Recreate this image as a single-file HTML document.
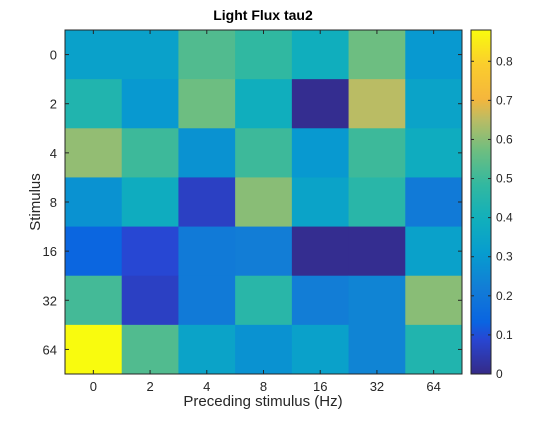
<!DOCTYPE html>
<html><head><meta charset="utf-8">
<style>
body{margin:0;background:#fff;width:560px;height:420px;overflow:hidden;font-family:"Liberation Sans",Arial,sans-serif;}
svg text{font-family:"Liberation Sans",Arial,sans-serif;}
</style></head>
<body>
<svg id="chart" width="560" height="420">
<rect x="0" y="0" width="560" height="420" fill="#fff"/>
<text x="263" y="20" text-anchor="middle" font-size="14" font-weight="bold" fill="#000">Light Flux tau2</text>
<g id="cells"></g>
<g id="axes"></g>
<text x="263" y="406" text-anchor="middle" font-size="15" fill="#262626">Preceding stimulus (Hz)</text>
<text transform="translate(40,202) rotate(-90)" text-anchor="middle" font-size="15" fill="#262626">Stimulus</text>
<g id="cbar"></g>
</svg>
<script>
const xCategories = ["0","2","4","8","16","32","64"];
const yCategories = ["0","2","4","8","16","32","64"];
const row0  = [0.33,0.33,0.53,0.48,0.39,0.57,0.30];
const row2  = [0.44,0.30,0.57,0.39,0.01,0.65,0.34];
const row4  = [0.61,0.50,0.28,0.50,0.30,0.50,0.38];
const row8  = [0.28,0.38,0.07,0.60,0.34,0.46,0.21];
const row16 = [0.14,0.09,0.21,0.22,0.01,0.01,0.33];
const row32 = [0.51,0.07,0.21,0.46,0.22,0.24,0.60];
const row64 = [0.88,0.53,0.34,0.28,0.33,0.24,0.44];
const cbarTicks = [0,0.1,0.2,0.3,0.4,0.5,0.6,0.7,0.8];
const cMin = 0, cMax = 0.88;
const rows = [row0,row2,row4,row8,row16,row32,row64];

const L=65,R=462,T=30,B=374;
const cw=(R-L)/xCategories.length, ch=(B-T)/yCategories.length;
function xPos(i){return L+i*cw;}
function yPos(j){return T+j*ch;}
const anchors=[[0,53,42,135],[0.1,40,70,210],[0.15,10,100,225],[0.25,18,125,214],[0.35,7,156,207],[0.45,17,175,188],[0.55,50,184,160],[0.65,110,190,128],[0.74,187,188,100],[0.80,245,182,60],[0.90,250,205,45],[1,249,251,14]];
function color(v){
  let t=Math.max(0,Math.min(1,(v-cMin)/(cMax-cMin)));
  for(let k=1;k<anchors.length;k++){
    if(t<=anchors[k][0]){const a=anchors[k-1],b=anchors[k];const f=(t-a[0])/(b[0]-a[0]);
      return `rgb(${Math.round(a[1]+f*(b[1]-a[1]))},${Math.round(a[2]+f*(b[2]-a[2]))},${Math.round(a[3]+f*(b[3]-a[3]))})`;}
  }
  return 'rgb(249,251,14)';
}
const NS="http://www.w3.org/2000/svg";
function mk(tag,attrs,parent){const e=document.createElementNS(NS,tag);for(const k in attrs)e.setAttribute(k,attrs[k]);parent.appendChild(e);return e;}
const cells=document.getElementById('cells');
rows.forEach((r,j)=>r.forEach((v,i)=>{
  const el=mk('rect',{x:xPos(i),y:yPos(j),width:cw+0.5,height:ch+0.5,fill:color(v)},cells);
  
  
}));
const axes=document.getElementById('axes');
const box=mk('rect',{x:L,y:T,width:R-L,height:B-T,fill:'none',stroke:'#262626','stroke-width':1},axes);


xCategories.forEach((c,i)=>{
  const x=xPos(i)+cw/2;
  mk('line',{x1:x,y1:B,x2:x,y2:B-4,stroke:'#262626'},axes);
  mk('line',{x1:x,y1:T,x2:x,y2:T+4,stroke:'#262626'},axes);
  const t=mk('text',{x:x,y:B+17,'text-anchor':'middle','font-size':13,fill:'#262626'},axes);
  t.textContent=c;
  
  
});
yCategories.forEach((c,j)=>{
  const y=yPos(j)+ch/2;
  mk('line',{x1:L,y1:y,x2:L+4,y2:y,stroke:'#262626'},axes);
  mk('line',{x1:R,y1:y,x2:R-4,y2:y,stroke:'#262626'},axes);
  const t=mk('text',{x:L-8,y:y+5,'text-anchor':'end','font-size':13,fill:'#262626'},axes);
  t.textContent=c;
  
  
});
const cb=document.getElementById('cbar');
const CX=471,CW=20;
for(let p=0;p<(B-T);p++){
  const v=cMin+(cMax-cMin)*(1-(p+0.5)/(B-T));
  mk('rect',{x:CX,y:T+p,width:CW,height:1.2,fill:color(v)},cb);
}
const cframe=mk('rect',{x:CX,y:T,width:CW,height:B-T,fill:'none',stroke:'#262626'},cb);


cbarTicks.forEach(v=>{
  const y=B-(v-cMin)/(cMax-cMin)*(B-T);
  mk('line',{x1:CX,y1:y,x2:CX+3,y2:y,stroke:'#262626'},cb);
  mk('line',{x1:CX+CW,y1:y,x2:CX+CW-3,y2:y,stroke:'#262626'},cb);
  const t=mk('text',{x:CX+CW+5,y:y+4,'font-size':12,fill:'#262626'},cb);
  t.textContent=String(v);
  
  
});
</script>
</body></html>
